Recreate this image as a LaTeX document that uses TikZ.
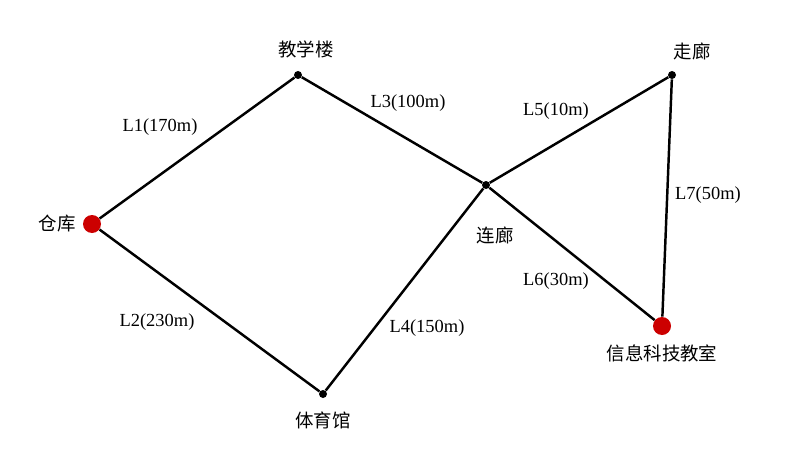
\documentclass[tikz,border=0pt]{standalone}
\usepackage{fontspec}
\setmainfont{Liberation Serif}
\newfontfamily\cjk{Noto Sans CJK SC}
\usetikzlibrary{positioning}

\tikzset{
  dot/.style={circle,fill=black,inner sep=0pt,minimum size=0.16cm},
  bigdot/.style={circle,fill=red!80!black,inner sep=0pt,minimum size=0.36cm},
  lbl/.style={font=\fontsize{10.5}{12}\selectfont},
  place/.style={font=\cjk\fontsize{10.5}{12}\selectfont},
  road/.style={line width=1.4pt}
}

\begin{document}
\begin{tikzpicture}
      \useasboundingbox (0,0) rectangle (16,9);
      \node[bigdot](ck) at (1.84,4.52){};
      \node[dot](jxl) at (5.96,7.5){};
      \node[dot](ll) at (9.72,5.3){};
      \node[dot](zl) at (13.44,7.5){};
      \node[bigdot](xx) at (13.24,2.48){};
      \node[dot](tyg) at (6.46,1.12){};

      \node[place](ckt) at (1.14,4.52){仓库};
      \node[place](jxlt) at (6.12,8.02){教学楼};
      \node[place](llt) at (9.9,4.3){连廊};
      \node[place](zlt) at (13.84,7.98){走廊};
      \node[place](xxt) at (13.24,1.94){信息科技教室};
      \node[place](tygt) at (6.46,0.6){体育馆};

      \draw[road] (ck) -- (jxl);
      \draw[road] (ck) -- (tyg);
      \draw[road] (jxl) -- (ll);
      \draw[road] (tyg) -- (ll);
      \draw[road] (ll) -- (zl);
      \draw[road] (ll) -- (xx);
      \draw[road] (zl) -- (xx);

      \node[lbl](l1) at (3.2,6.46){L1(170m)};
      \node[lbl](l2) at (3.14,2.56){L2(230m)};
      \node[lbl](l3) at (8.16,6.94){L3(100m)};
      \node[lbl](l4) at (8.54,2.44){L4(150m)};
      \node[lbl](l5) at (11.12,6.78){L5(10m)};
      \node[lbl](l6) at (11.12,3.38){L6(30m)};
      \node[lbl](l7) at (14.16,5.1){L7(50m)};
    \end{tikzpicture}
\end{document}
